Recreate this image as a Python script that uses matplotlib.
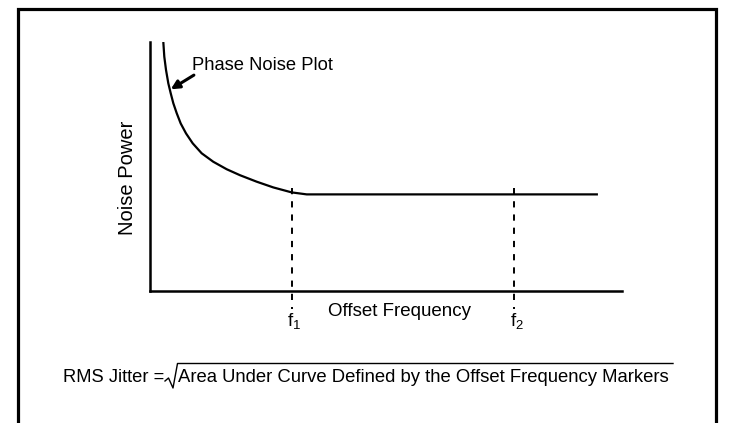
import matplotlib
matplotlib.use("Agg")
import matplotlib.pyplot as plt
from matplotlib.lines import Line2D

# phase noise curve (offset frequency, noise power)
offset_freq = [0.282, 0.303, 0.339, 0.388, 0.439, 0.494, 0.566, 0.650, 0.763, 0.905,
               1.095, 1.341, 1.625, 1.907, 2.260, 2.612, 3.002, 3.320, 9.49]
noise_power = [10.0, 9.41, 8.88, 8.34, 7.94, 7.54, 7.14, 6.73, 6.33, 5.93,
               5.53, 5.19, 4.89, 4.65, 4.39, 4.16, 3.96, 3.88, 3.88]
marker_freq = [3.0, 7.71]
marker_labels = ["1", "2"]

plt.rcParams['font.family'] = ['Liberation Sans', 'DejaVu Sans']
plt.rcParams['mathtext.fontset'] = 'custom'
plt.rcParams['mathtext.rm'] = 'Liberation Sans'
plt.rcParams['mathtext.it'] = 'Liberation Sans'

W, H = 729, 423
fig = plt.figure(figsize=(W / 100, H / 100), dpi=100)


def fx(x):
    return x / W


def fy(y):
    return 1 - y / H


# axes box in pixels: left 150, right 622, top 42, bottom 291
ax = fig.add_axes([fx(150), fy(291), (622 - 150) / W, (291 - 42) / H])
ax.set_xlim(0, 10)
ax.set_ylim(0, 10)
ax.spines['top'].set_visible(False)
ax.spines['right'].set_visible(False)
ax.spines['left'].set_linewidth(1.8)
ax.spines['bottom'].set_linewidth(1.8)
ax.set_xticks([])
ax.set_yticks([])
ax.patch.set_alpha(0)

ax.plot(offset_freq, noise_power, color='black', lw=1.6, solid_capstyle='butt',
        solid_joinstyle='round')

for f, lab in zip(marker_freq, marker_labels):
    ax.plot([f, f], [4.14, -0.72], color='black', lw=1.4, linestyle=(0, (3.2, 3.6)),
            clip_on=False)
    ax.text(f - 0.09, -1.41, r'$\mathregular{f_%s}$' % lab, fontsize=13.5, ha='left',
            va='baseline', clip_on=False)

ax.annotate('', xy=(0.44, 8.1), xytext=(0.93, 8.67),
            arrowprops=dict(arrowstyle='-|>,head_length=0.5,head_width=0.25',
                            color='black', lw=2.2, shrinkA=0, shrinkB=0))

fig.text(fx(192), fy(70), "Phase Noise Plot", fontsize=13.2, ha='left', va='baseline')
fig.text(fx(128), fy(177.5), "Noise Power", fontsize=14.5, rotation=90,
         ha='center', va='center')
fig.text(fx(399.5), fy(315.7), "Offset Frequency", fontsize=13.5, ha='center',
         va='baseline')

# equation below the plot
fig.text(fx(63), fy(382), "RMS Jitter =", fontsize=13.2, ha='left', va='baseline')
fig.text(fx(178), fy(382), "Area Under Curve Defined by the Offset Frequency Markers",
         fontsize=13.3, ha='left', va='baseline')
fig.add_artist(Line2D([fx(165), fx(168.5), fx(173), fx(177.5), fx(673)],
                      [fy(381), fy(378), fy(388), fy(363.5), fy(363.5)],
                      color='black', lw=1.0, transform=fig.transFigure))

# outer frame, open at the bottom
fig.add_artist(Line2D([fx(17.5), fx(17.5), fx(715.5), fx(715.5)],
                      [fy(430), fy(9), fy(9), fy(430)],
                      color='black', lw=2.3, transform=fig.transFigure,
                      solid_joinstyle='miter'))

fig.savefig("out.png", dpi=100)
